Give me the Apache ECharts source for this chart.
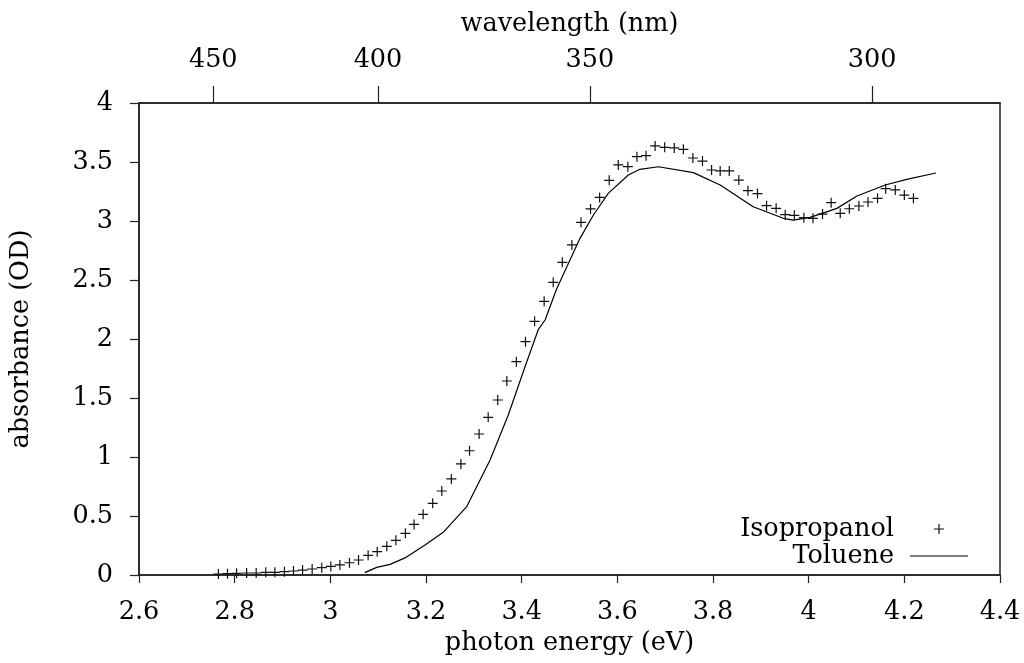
<!DOCTYPE html>
<html>
<head>
<meta charset="utf-8">
<script src="https://cdn.jsdelivr.net/npm/echarts@6/dist/echarts.min.js"></script>
<style>
html,body{margin:0;padding:0;background:#fff;}
#chart{width:1024px;height:663px;}
</style>
</head>
<body>
<div id="chart"></div>
<script>
// Isopropanol (crosses): photon energy (eV) and absorbance (OD)
const isoEnergy = [2.766,2.785,2.804,2.825,2.845,2.865,2.884,2.904,2.923,2.942,2.962,2.982,3.001,3.020,3.040,3.059,3.079,3.098,3.118,3.137,3.157,3.175,3.194,3.214,3.233,3.253,3.273,3.291,3.311,3.330,3.350,3.369,3.389,3.408,3.427,3.447,3.466,3.485,3.505,3.524,3.544,3.563,3.583,3.602,3.622,3.641,3.660,3.679,3.699,3.719,3.738,3.758,3.778,3.797,3.815,3.834,3.854,3.873,3.893,3.912,3.932,3.951,3.970,3.990,4.009,4.029,4.047,4.066,4.085,4.105,4.124,4.144,4.161,4.181,4.200,4.219];
const isoAbs = [0.008,0.011,0.014,0.017,0.017,0.023,0.023,0.028,0.034,0.042,0.051,0.062,0.073,0.085,0.104,0.127,0.167,0.198,0.243,0.294,0.353,0.429,0.514,0.607,0.712,0.814,0.941,1.053,1.195,1.336,1.483,1.644,1.808,1.977,2.150,2.319,2.480,2.650,2.797,2.989,3.102,3.200,3.345,3.475,3.460,3.545,3.554,3.636,3.624,3.619,3.607,3.534,3.508,3.432,3.424,3.424,3.347,3.257,3.232,3.130,3.107,3.054,3.048,3.028,3.023,3.059,3.155,3.065,3.104,3.127,3.161,3.192,3.274,3.263,3.220,3.192];

// Toluene (line)
const tolEnergy = [3.072,3.097,3.125,3.156,3.198,3.236,3.285,3.334,3.372,3.407,3.435,3.449,3.473,3.522,3.550,3.581,3.623,3.647,3.686,3.759,3.815,3.884,3.947,3.968,4.003,4.059,4.101,4.160,4.205,4.266];
const tolAbs = [0.020,0.065,0.090,0.145,0.254,0.362,0.579,0.975,1.356,1.765,2.082,2.161,2.424,2.853,3.051,3.234,3.390,3.438,3.460,3.410,3.305,3.121,3.023,3.008,3.031,3.107,3.212,3.305,3.353,3.407];

// Top axis tick labels (wavelength, nm); positioned at E = hc/lambda
const wavelengthTicks = [450, 400, 350, 300];
const HC = 1239.84;

const seriesNames = ['Isopropanol', 'Toluene'];

const FONT = 'DejaVu Serif';
const FS = 25.5;
const AXIS_COLOR = '#222';

const isoData = isoEnergy.map((e, i) => [e, isoAbs[i]]);
const tolData = tolEnergy.map((e, i) => [e, tolAbs[i]]);
const topTickPos = wavelengthTicks.map(nm => HC / nm);

const crossPath = 'path://M4.4 0H5.6V10H4.4Z M0 4.4H10V5.6H0Z';
const legendCross = 'path://M0 0 M74 12 M35 5.4H45V6.6H35Z M39.4 1H40.6V11H39.4Z';
const legendLine = 'path://M0 0 M74 12 M11 5.5H69V6.6H11Z';

const chart = echarts.init(document.getElementById('chart'), null, {renderer: 'canvas'});
chart.setOption({
  backgroundColor: '#fff',
  animation: false,
  textStyle: {fontFamily: FONT, color: '#000'},
  grid: {left: 139, right: 24, top: 103, bottom: 88, show: true, borderColor: AXIS_COLOR, borderWidth: 1.5, backgroundColor: 'transparent'},
  legend: {
    orient: 'vertical',
    align: 'right',
    right: 46,
    top: 511,
    itemWidth: 74,
    itemHeight: 12,
    itemGap: 1,
    selectedMode: false,
    textStyle: {fontFamily: FONT, fontSize: FS, color: '#000'},
    itemStyle: {borderWidth: 0},
    data: [
      {name: seriesNames[0], icon: legendCross},
      {name: seriesNames[1], icon: legendLine}
    ]
  },
  xAxis: [
    {
      type: 'value',
      position: 'bottom',
      min: 2.6, max: 4.4, interval: 0.2,
      name: 'photon energy (eV)',
      nameLocation: 'middle',
      nameGap: 50,
      nameTextStyle: {fontFamily: FONT, fontSize: FS, color: '#000'},
      axisLine: {show: true, onZero: false, lineStyle: {color: AXIS_COLOR, width: 1.5}},
      axisTick: {show: true, inside: false, length: 8, lineStyle: {color: AXIS_COLOR, width: 1.2}},
      axisLabel: {fontFamily: FONT, fontSize: FS, color: '#000', margin: 24},
      splitLine: {show: false}
    },
    {
      type: 'value',
      position: 'top',
      min: 2.6, max: 4.4,
      name: 'wavelength (nm)',
      nameLocation: 'middle',
      nameGap: 66,
      nameTextStyle: {fontFamily: FONT, fontSize: FS, color: '#000'},
      axisLine: {show: true, onZero: false, lineStyle: {color: AXIS_COLOR, width: 1.5}},
      axisTick: {show: true, inside: false, length: 17, customValues: topTickPos, lineStyle: {color: AXIS_COLOR, width: 1.2}},
      axisLabel: {fontFamily: FONT, fontSize: FS, color: '#000', margin: 30, customValues: topTickPos,
        formatter: v => String(Math.round(HC / v))},
      splitLine: {show: false}
    }
  ],
  yAxis: {
    type: 'value',
    min: 0, max: 4, interval: 0.5,
    name: 'absorbance (OD)',
    nameLocation: 'middle',
    nameGap: 105,
    nameTextStyle: {fontFamily: FONT, fontSize: FS, color: '#000'},
    axisLine: {show: true, onZero: false, lineStyle: {color: AXIS_COLOR, width: 1.5}},
    axisTick: {show: true, inside: false, length: 9, lineStyle: {color: AXIS_COLOR, width: 1.2}},
    axisLabel: {fontFamily: FONT, fontSize: FS, color: '#000', margin: 26},
    splitLine: {show: false}
  },
  series: [
    {
      name: seriesNames[0],
      type: 'scatter',
      xAxisIndex: 0,
      data: isoData,
      symbol: crossPath,
      symbolSize: 10,
      itemStyle: {color: '#111', opacity: 1},
      z: 2
    },
    {
      name: seriesNames[1],
      type: 'line',
      xAxisIndex: 0,
      data: tolData,
      symbol: 'none',
      showSymbol: false,
      smooth: false,
      lineStyle: {color: '#000', width: 1.2},
      itemStyle: {color: '#000'},
      z: 3
    }
  ]
});
</script>
</body>
</html>
